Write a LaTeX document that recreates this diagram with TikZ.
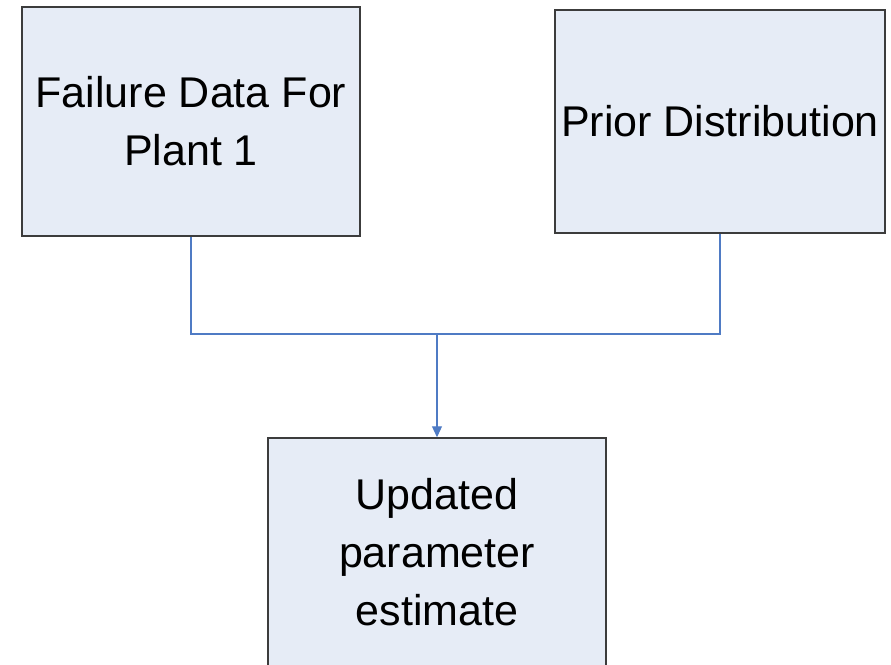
\documentclass[tikz,border=0pt]{standalone}
\usepackage{fontspec}
\setmainfont{Liberation Sans}
\usetikzlibrary{arrows.meta}
\definecolor{boxfill}{RGB}{230,236,246}
\definecolor{boxline}{RGB}{60,60,60}
\definecolor{linkline}{RGB}{79,123,196}
\tikzset{
	block/.style={draw=boxline, line width=1.5pt, fill=boxfill, inner sep=0pt,
		align=center, font=\fontsize{43}{58}\selectfont},
	link/.style={draw=linkline, line width=1.2pt}
}
\begin{document}
\begin{tikzpicture}[x=1pt, y=-1pt]
	\useasboundingbox (0,0) rectangle (891,664);
	% Bloecke oben
	\node[block, minimum width=338pt, minimum height=229pt] (fail) at (191,121.5)
		{Failure Data For\\Plant 1};
	\node[block, minimum width=330pt, minimum height=223pt] (prior) at (720,121.5)
		{Prior Distribution};
	% Block unten
	\node[block, minimum width=338pt, minimum height=229pt] (update) at (437,552.5)
		{Updated\\parameter\\estimate};
	% Verbindungen
	\coordinate (join) at (437,334);
	\draw[link] (fail.south) |- (join) -| (prior.south);
	\draw[link, -{Triangle[length=11pt, width=10pt]}] (join) -- (update.north);
\end{tikzpicture}
\end{document}
